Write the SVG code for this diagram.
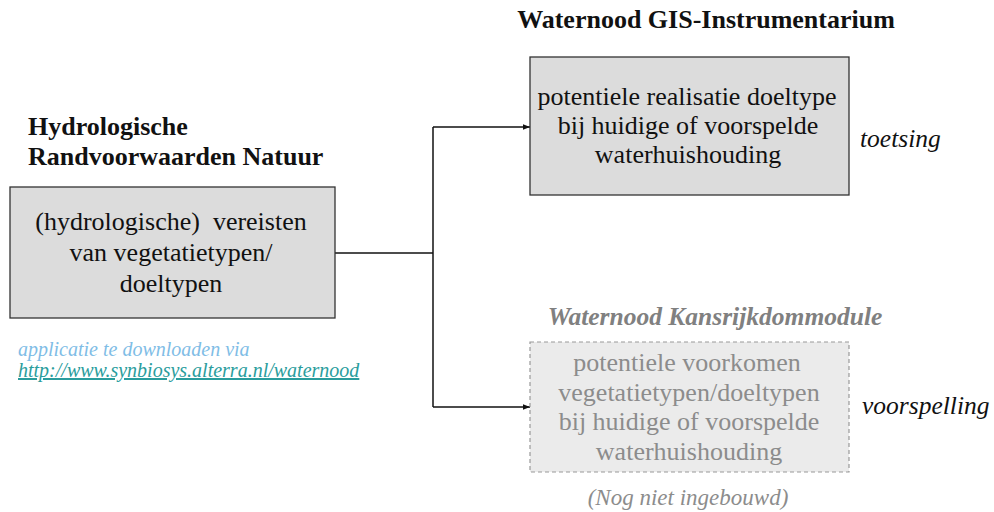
<svg xmlns="http://www.w3.org/2000/svg" width="994" height="512" viewBox="0 0 994 512">
<defs>
<style>
text{font-family:"Liberation Serif","Times New Roman",serif;}
.t{font-size:26px;fill:#111;text-anchor:middle;}
.g{font-size:26px;fill:#8c8c8c;text-anchor:middle;}
.h{font-size:26px;font-weight:bold;fill:#111;}
.i{font-size:25.5px;font-style:italic;fill:#111;}
.box{fill:#dcdcdc;stroke:#333;stroke-width:1.3;}
.dbox{fill:#ebebeb;stroke:#999;stroke-width:1.2;stroke-dasharray:4 3;}
.c{fill:none;stroke:#111;stroke-width:1.5;}
</style>
<marker id="ah" viewBox="0 0 10 10" refX="10" refY="5" markerWidth="7" markerHeight="7" orient="auto" markerUnits="userSpaceOnUse">
<path d="M0,1 L10,5 L0,9 z" fill="#111"/>
</marker>
</defs>
<rect width="994" height="512" fill="#fff"/>

<g id="connectors">
<path class="c" d="M335,253 H433"/>
<path class="c" d="M433,127 V407"/>
<path class="c" d="M433,127 H530" marker-end="url(#ah)"/>
<path class="c" d="M433,407 H530" marker-end="url(#ah)"/>
</g>

<g id="node-left">
<text class="h" x="28" y="135">Hydrologische</text>
<text class="h" x="28" y="165">Randvoorwaarden Natuur</text>
<rect class="box" x="10" y="187" width="325" height="131"/>
<text class="t" x="171" y="230" xml:space="preserve">(hydrologische)  vereisten</text>
<text class="t" x="171" y="261">van vegetatietypen/</text>
<text class="t" x="171" y="292">doeltypen</text>
<text x="18" y="356" style="font-size:20px;font-style:italic;fill:#7fbde6;">applicatie te downloaden via</text>
<text x="18" y="377" style="font-size:20px;font-style:italic;fill:#2a9d9d;text-decoration:underline;">http://www.synbiosys.alterra.nl/waternood</text>
</g>

<g id="node-gis">
<text class="h" x="706" y="28" text-anchor="middle">Waternood GIS-Instrumentarium</text>
<rect class="box" x="530" y="57" width="319" height="138"/>
<text class="t" x="687" y="105">potentiele realisatie doeltype</text>
<text class="t" x="688" y="134">bij huidige of voorspelde</text>
<text class="t" x="688" y="163">waterhuishouding</text>
<text class="i" x="860" y="147">toetsing</text>
</g>

<g id="node-kans">
<text x="715" y="325" text-anchor="middle" style="font-size:25.5px;font-weight:bold;font-style:italic;fill:#808080;">Waternood Kansrijkdommodule</text>
<rect class="dbox" x="530" y="342" width="319" height="130"/>
<text class="g" x="687" y="371">potentiele voorkomen</text>
<text class="g" x="689" y="401">vegetatietypen/doeltypen</text>
<text class="g" x="689" y="430">bij huidige of voorspelde</text>
<text class="g" x="689" y="460">waterhuishouding</text>
<text class="i" x="862" y="414">voorspelling</text>
<text x="688" y="505" text-anchor="middle" style="font-size:23px;font-style:italic;fill:#8c8c8c;">(Nog niet ingebouwd)</text>
</g>
</svg>
